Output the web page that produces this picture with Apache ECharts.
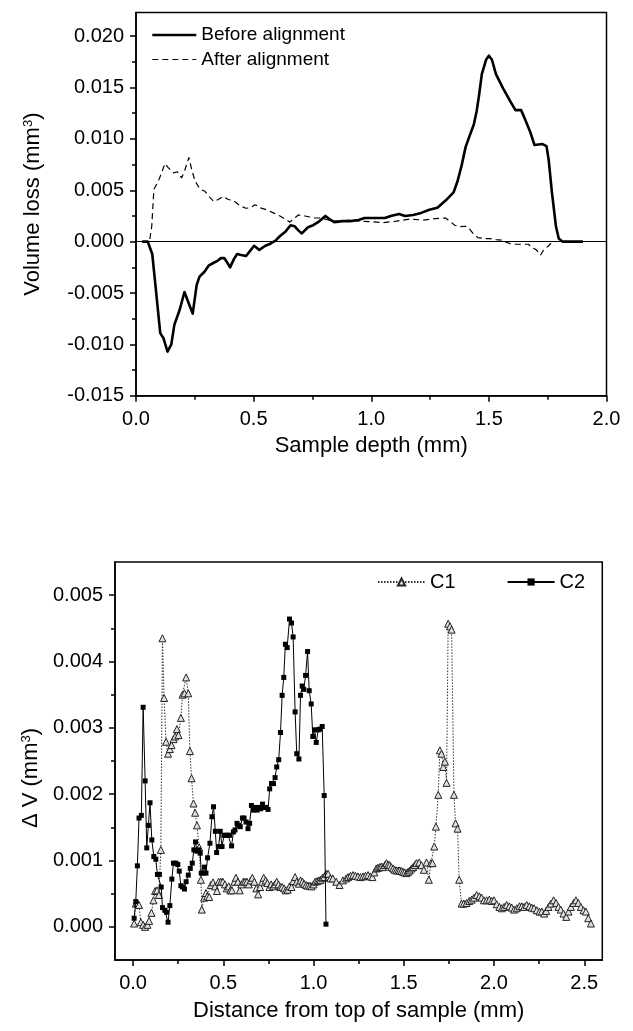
<!DOCTYPE html>
<html>
<head>
<meta charset="utf-8">
<script src="https://cdn.jsdelivr.net/npm/echarts@6/dist/echarts.min.js"></script>
<style>
html,body{margin:0;padding:0;background:#fff;}
#chart{width:633px;height:1031px;}
</style>
</head>
<body>
<div id="chart"></div>
<script>
// ---------- Top chart: Volume loss vs sample depth ----------
const beforeX = [0.026,0.05,0.069,0.086,0.103,0.117,0.134,0.15,0.163,0.186,0.206,0.224,0.241,0.258,0.27,0.292,0.31,0.327,0.344,0.361,0.375,0.387,0.40,0.416,0.43,0.447,0.468,0.485,0.502,0.524,0.55,0.571,0.593,0.61,0.636,0.657,0.674,0.69,0.705,0.731,0.753,0.774,0.79,0.805,0.822,0.843,0.877,0.911,0.946,0.972,1.015,1.058,1.083,1.118,1.144,1.178,1.212,1.247,1.281,1.316,1.35,1.367,1.384,1.401,1.418,1.436,1.448,1.458,1.47,1.488,1.50,1.513,1.53,1.561,1.59,1.613,1.637,1.654,1.677,1.694,1.728,1.745,1.754,1.768,1.785,1.797,1.814,1.9];
const beforeY = [0,0,-0.0012,-0.0050,-0.0089,-0.0094,-0.0107,-0.0100,-0.0081,-0.0066,-0.0049,-0.0060,-0.0070,-0.0042,-0.0034,-0.0029,-0.0023,-0.0021,-0.0019,-0.0016,-0.0016,-0.0020,-0.0025,-0.0017,-0.0012,-0.0013,-0.0014,-0.0009,-0.0004,-0.0008,-0.0004,-0.0002,0.0001,0.0005,0.0010,0.0016,0.0015,0.0011,0.0008,0.0014,0.0016,0.0019,0.0022,0.0025,0.0022,0.0019,0.0020,0.0020,0.0021,0.0023,0.0023,0.0023,0.0025,0.0027,0.0025,0.0026,0.0028,0.0031,0.0033,0.0040,0.0048,0.0059,0.0074,0.0092,0.0103,0.0114,0.0127,0.0142,0.0163,0.0177,0.0181,0.0177,0.0163,0.0149,0.0137,0.0128,0.0128,0.0119,0.0106,0.0094,0.0095,0.0093,0.0080,0.0048,0.0015,0.0003,0,0];

const afterX = [0.026,0.057,0.067,0.076,0.095,0.109,0.123,0.137,0.159,0.176,0.194,0.208,0.225,0.237,0.251,0.272,0.293,0.312,0.331,0.350,0.371,0.392,0.414,0.442,0.467,0.487,0.506,0.527,0.555,0.584,0.612,0.633,0.654,0.669,0.69,0.718,0.739,0.761,0.782,0.803,0.832,0.867,0.909,0.952,0.994,1.051,1.108,1.164,1.221,1.273,1.316,1.333,1.355,1.376,1.401,1.419,1.436,1.453,1.479,1.505,1.53,1.556,1.573,1.591,1.617,1.642,1.668,1.685,1.702,1.72,1.733,1.754,1.771];
const afterY = [0,0,0.0015,0.0051,0.0059,0.0067,0.0076,0.0072,0.0067,0.0068,0.0062,0.0070,0.0082,0.0070,0.0059,0.0051,0.0049,0.00435,0.0039,0.0041,0.0044,0.0041,0.0040,0.0035,0.00325,0.0033,0.0036,0.0033,0.0031,0.0028,0.0025,0.0022,0.0019,0.0022,0.0026,0.0025,0.0024,0.0023,0.0023,0.0022,0.0020,0.0020,0.0021,0.0020,0.00195,0.00185,0.0020,0.0022,0.0021,0.00225,0.0023,0.0020,0.0016,0.00145,0.0015,0.0012,0.0007,0.0004,0.0003,0.0003,0.0002,0.00015,-0.00005,-0.0002,-0.00025,-0.00025,-0.00025,-0.0006,-0.0008,-0.0013,-0.0008,-0.0004,0];

const topXMajor = [0, 0.5, 1.0, 1.5, 2.0];
const topXMinor = [0.25, 0.75, 1.25, 1.75];
const topYMajor = [-0.015, -0.010, -0.005, 0, 0.005, 0.010, 0.015, 0.020];
const topYMinor = [-0.0125, -0.0075, -0.0025, 0.0025, 0.0075, 0.0125, 0.0175];

// ---------- Bottom chart: Delta V vs distance ----------
const c1X = [0.006,0.015,0.024,0.033,0.043,0.056,0.067,0.080,0.089,0.102,0.113,0.122,0.133,0.143,0.154,0.163,0.172,0.183,0.194,0.204,0.213,0.224,0.233,0.243,0.252,0.265,0.274,0.285,0.294,0.306,0.315,0.324,0.335,0.344,0.354,0.366,0.376,0.381,0.394,0.404,0.411,0.422,0.431,0.443,0.454,0.465,0.474,0.487,0.498,0.509,0.519,0.530,0.539,0.548,0.561,0.570,0.581,0.591,0.600,0.611,0.620,0.631,0.641,0.652,0.661,0.672,0.683,0.693,0.704,0.715,0.724,0.735,0.744,0.756,0.765,0.776,0.785,0.796,0.806,0.817,0.826,0.837,0.846,0.857,0.867,0.878,0.887,0.898,0.907,0.919,0.928,0.939,0.948,0.959,0.969,0.980,0.989,1.000,1.009,1.020,1.030,1.039,1.050,1.059,1.070,1.081,1.093,1.107,1.126,1.144,1.163,1.181,1.191,1.205,1.219,1.232,1.246,1.260,1.274,1.288,1.302,1.315,1.326,1.337,1.348,1.357,1.367,1.376,1.385,1.395,1.404,1.413,1.422,1.431,1.441,1.450,1.459,1.469,1.478,1.487,1.496,1.505,1.515,1.524,1.533,1.543,1.552,1.561,1.570,1.585,1.598,1.611,1.626,1.639,1.650,1.659,1.669,1.678,1.691,1.700,1.709,1.719,1.728,1.737,1.746,1.756,1.765,1.778,1.787,1.798,1.807,1.820,1.833,1.848,1.863,1.876,1.889,1.904,1.919,1.931,1.944,1.959,1.974,1.987,2.000,2.015,2.030,2.043,2.056,2.070,2.085,2.098,2.111,2.126,2.141,2.154,2.167,2.181,2.196,2.209,2.222,2.237,2.252,2.265,2.278,2.289,2.302,2.315,2.330,2.344,2.357,2.370,2.385,2.400,2.413,2.426,2.441,2.454,2.467,2.481,2.496,2.509,2.522,2.537];
const c1Y = [0.00005,0.00035,0.00036,0.00033,0.00007,0.00003,0.00000,0.00003,0.00009,0.00021,0.00040,0.00054,0.00055,0.00048,0.00116,0.00435,0.00345,0.00279,0.00261,0.00268,0.00274,0.00283,0.00287,0.00298,0.00289,0.00315,0.00350,0.00352,0.00376,0.00352,0.00265,0.00224,0.00186,0.00172,0.00153,0.00120,0.00071,0.00026,0.00044,0.00051,0.00046,0.00045,0.00063,0.00067,0.00061,0.00054,0.00068,0.00068,0.00068,0.00064,0.00058,0.00061,0.00055,0.00055,0.00068,0.00074,0.00068,0.00055,0.00064,0.00068,0.00068,0.00068,0.00064,0.00070,0.00074,0.00068,0.00058,0.00049,0.00060,0.00068,0.00074,0.00070,0.00066,0.00060,0.00064,0.00061,0.00064,0.00068,0.00064,0.00060,0.00060,0.00058,0.00055,0.00056,0.00061,0.00060,0.00069,0.00075,0.00068,0.00065,0.00070,0.00068,0.00065,0.00063,0.00062,0.00062,0.00061,0.00064,0.00068,0.00069,0.00070,0.00071,0.00074,0.00075,0.00080,0.00080,0.00073,0.00073,0.00068,0.00063,0.00070,0.00073,0.00075,0.00077,0.00078,0.00077,0.00076,0.00075,0.00076,0.00077,0.00078,0.00076,0.00075,0.00082,0.00088,0.00089,0.00090,0.00091,0.00090,0.00093,0.00096,0.00094,0.00093,0.00090,0.00088,0.00086,0.00085,0.00085,0.00085,0.00084,0.00083,0.00082,0.00081,0.00083,0.00085,0.00088,0.00090,0.00093,0.00096,0.00097,0.00093,0.00086,0.00097,0.00071,0.00096,0.00096,0.00121,0.00151,0.00199,0.00266,0.00261,0.00241,0.00249,0.00217,0.00457,0.00453,0.00448,0.00199,0.00156,0.00148,0.00071,0.00035,0.00035,0.00036,0.00039,0.00041,0.00044,0.00048,0.00046,0.00044,0.00040,0.00040,0.00041,0.00039,0.00040,0.00034,0.00030,0.00028,0.00030,0.00033,0.00031,0.00029,0.00026,0.00028,0.00031,0.00031,0.00030,0.00033,0.00031,0.00029,0.00028,0.00025,0.00023,0.00023,0.00020,0.00024,0.00030,0.00035,0.00040,0.00036,0.00030,0.00026,0.00020,0.00015,0.00023,0.00030,0.00036,0.00040,0.00036,0.00030,0.00025,0.00023,0.00013,0.00005];

const c2X = [0.006,0.015,0.024,0.033,0.046,0.056,0.067,0.076,0.085,0.094,0.104,0.115,0.126,0.135,0.146,0.156,0.163,0.176,0.185,0.194,0.204,0.215,0.224,0.237,0.248,0.256,0.265,0.274,0.285,0.294,0.306,0.317,0.328,0.337,0.346,0.354,0.363,0.372,0.378,0.389,0.396,0.404,0.413,0.426,0.437,0.446,0.456,0.463,0.474,0.483,0.493,0.504,0.515,0.526,0.535,0.546,0.556,0.565,0.576,0.585,0.594,0.606,0.615,0.626,0.637,0.646,0.656,0.667,0.676,0.687,0.696,0.707,0.717,0.726,0.737,0.748,0.757,0.767,0.778,0.787,0.796,0.807,0.817,0.826,0.835,0.844,0.854,0.867,0.878,0.887,0.898,0.907,0.919,0.928,0.937,0.946,0.956,0.967,0.976,0.987,0.996,1.006,1.015,1.026,1.035,1.048,1.059,1.069];
const c2Y = [0.00013,0.00038,0.00092,0.00164,0.00168,0.00331,0.00220,0.00119,0.00153,0.00187,0.00131,0.00106,0.00102,0.00079,0.00079,0.00060,0.00029,0.00025,0.00022,0.00007,0.00032,0.00072,0.00096,0.00096,0.00094,0.00084,0.00062,0.00060,0.00057,0.00068,0.00078,0.00088,0.00096,0.00116,0.00128,0.00114,0.00116,0.00111,0.00081,0.00081,0.00090,0.00081,0.00104,0.00126,0.00166,0.00181,0.00144,0.00112,0.00121,0.00144,0.00121,0.00138,0.00138,0.00138,0.00138,0.00122,0.00143,0.00146,0.00156,0.00153,0.00151,0.00164,0.00164,0.00158,0.00148,0.00156,0.00183,0.00176,0.00180,0.00176,0.00180,0.00178,0.00185,0.00180,0.00180,0.00177,0.00208,0.00216,0.00216,0.00225,0.00241,0.00252,0.00293,0.00349,0.00376,0.00426,0.00421,0.00464,0.00458,0.00437,0.00324,0.00261,0.00253,0.00349,0.00363,0.00358,0.00379,0.00415,0.00356,0.00336,0.00287,0.00297,0.00278,0.00297,0.00298,0.00302,0.00198,0.00004];

const botXMajor = [0, 0.5, 1.0, 1.5, 2.0, 2.5];
const botXMinor = [0.25, 0.75, 1.25, 1.75, 2.25];
const botYMajor = [0, 0.001, 0.002, 0.003, 0.004, 0.005];
const botYMinor = [0.0005, 0.0015, 0.0025, 0.0035, 0.0045];

const pairs = (xs, ys) => xs.map((x, i) => [x, ys[i]]);

const FONT = 'Liberation Sans, Arial, sans-serif';
const BLACK = '#000';

function majorX(gridIndex, min, max, ticks, name, nameGap, margin) {
  return {
    type: 'value', gridIndex, min, max, position: 'bottom', offset: 0,
    axisLine: { show: true, onZero: false, lineStyle: { color: BLACK, width: 1.5 } },
    axisTick: { show: true, inside: false, length: 6, customValues: ticks, lineStyle: { color: BLACK, width: 1.5 } },
    axisLabel: { show: true, customValues: ticks, margin, fontSize: 20, color: BLACK, fontFamily: FONT,
                 formatter: v => v.toFixed(1) },
    splitLine: { show: false },
    name, nameLocation: 'middle', nameGap,
    nameTextStyle: { fontSize: 22, color: BLACK, fontFamily: FONT }
  };
}
function minorX(gridIndex, min, max, ticks) {
  return {
    type: 'value', gridIndex, min, max, position: 'bottom', offset: 0,
    axisLine: { show: false, onZero: false },
    axisTick: { show: true, inside: false, length: 4, customValues: ticks, lineStyle: { color: BLACK, width: 1.5 } },
    axisLabel: { show: false }, splitLine: { show: false }
  };
}
function majorY(gridIndex, min, max, ticks, name, nameGap, namePadding) {
  return {
    type: 'value', gridIndex, min, max, position: 'left', offset: 0,
    axisLine: { show: true, onZero: false, lineStyle: { color: BLACK, width: 1.5 } },
    axisTick: { show: true, inside: false, length: 6, customValues: ticks, lineStyle: { color: BLACK, width: 1.5 } },
    axisLabel: { show: true, customValues: ticks, margin: 12, fontSize: 20, color: BLACK, fontFamily: FONT,
                 formatter: v => v.toFixed(3) },
    splitLine: { show: false },
    name, nameLocation: 'middle', nameGap,
    nameTextStyle: { fontSize: 22, color: BLACK, fontFamily: FONT, padding: namePadding,
      rich: { sup: { fontSize: 13, color: BLACK, fontFamily: FONT, verticalAlign: 'top', lineHeight: 13 } } }
  };
}
function minorY(gridIndex, min, max, ticks) {
  return {
    type: 'value', gridIndex, min, max, position: 'left', offset: 0,
    axisLine: { show: false, onZero: false },
    axisTick: { show: true, inside: false, length: 4, customValues: ticks, lineStyle: { color: BLACK, width: 1.5 } },
    axisLabel: { show: false }, splitLine: { show: false }
  };
}

const chart = echarts.init(document.getElementById('chart'), null, { renderer: 'canvas', width: 633, height: 1031 });

chart.setOption({
  animation: false,
  backgroundColor: '#fff',
  textStyle: { fontFamily: FONT },
  grid: [
    { left: 136, top: 12.5, width: 470.5, height: 383.3, show: true, borderColor: BLACK, borderWidth: 1.5, backgroundColor: 'transparent' },
    { left: 115, top: 562, width: 487.3, height: 398, show: true, borderColor: BLACK, borderWidth: 1.5, backgroundColor: 'transparent' }
  ],
  xAxis: [
    majorX(0, 0, 2.0, topXMajor, 'Sample depth (mm)', 39, 14),
    minorX(0, 0, 2.0, topXMinor),
    majorX(1, -0.1, 2.6, botXMajor, 'Distance from top of sample (mm)', 40, 13),
    minorX(1, -0.1, 2.6, botXMinor)
  ],
  yAxis: [
    majorY(0, -0.015, 0.0223, topYMajor, 'Volume loss (mm{sup|3})', 92, [0, 0, 0, 0]),
    minorY(0, -0.015, 0.0223, topYMinor),
    majorY(1, -0.0005, 0.0055, botYMajor, '\u0394 V (mm{sup|3})', 72, [0, 34, 0, 0]),
    minorY(1, -0.0005, 0.0055, botYMinor)
  ],
  legend: [
    {
      orient: 'vertical', left: 151, top: 25, padding: 0, itemWidth: 44, itemHeight: 14, itemGap: 4.5,
      textStyle: { fontSize: 19, color: BLACK, fontFamily: FONT, lineHeight: 20 },
      data: [
        { name: 'Before alignment', lineStyle: { width: 2.6 }, itemStyle: { opacity: 0 } },
        { name: 'After alignment', lineStyle: { width: 1.2 }, itemStyle: { opacity: 0 } }
      ]
    },
    {
      orient: 'horizontal', left: 377, top: 572, padding: 0, itemWidth: 47, itemHeight: 9, itemGap: 51,
      textStyle: { fontSize: 20, color: BLACK, fontFamily: FONT, lineHeight: 20 },
      data: [ { name: 'C1' }, { name: 'C2' } ]
    }
  ],
  series: [
    {
      name: 'Before alignment', type: 'line', xAxisIndex: 0, yAxisIndex: 0,
      data: pairs(beforeX, beforeY), symbol: 'none', z: 4,
      lineStyle: { color: BLACK, width: 2.6, join: 'round' }, itemStyle: { color: BLACK },
      markLine: {
        silent: true, symbol: 'none', label: { show: false },
        lineStyle: { color: BLACK, width: 1, type: 'solid' },
        data: [{ yAxis: 0 }]
      }
    },
    {
      name: 'After alignment', type: 'line', xAxisIndex: 0, yAxisIndex: 0,
      data: pairs(afterX, afterY), symbol: 'none', z: 3,
      lineStyle: { color: BLACK, width: 1.2, type: [6, 4] }, itemStyle: { color: BLACK }
    },
    {
      name: 'C1', type: 'line', xAxisIndex: 2, yAxisIndex: 2,
      data: pairs(c1X, c1Y), symbol: 'triangle', symbolSize: 7, showSymbol: true, z: 3,
      lineStyle: { color: '#333', width: 1, type: [1.5, 1.5] },
      itemStyle: { color: '#e0e0e0', borderColor: '#222', borderWidth: 1 }
    },
    {
      name: 'C2', type: 'line', xAxisIndex: 2, yAxisIndex: 2,
      data: pairs(c2X, c2Y), symbol: 'rect', symbolSize: 5, showSymbol: true, z: 4,
      lineStyle: { color: BLACK, width: 1 },
      itemStyle: { color: BLACK }
    }
  ]
});
</script>
</body>
</html>
